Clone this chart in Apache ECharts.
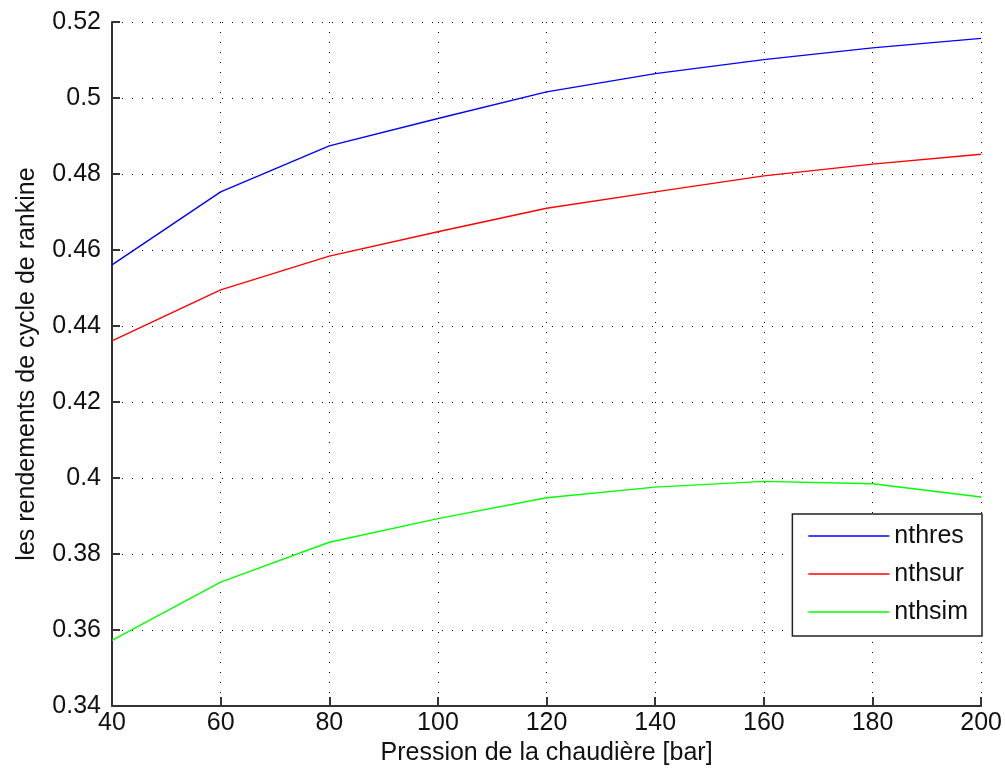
<!DOCTYPE html>
<html>
<head>
<meta charset="utf-8">
<script src="https://cdn.jsdelivr.net/npm/echarts@6/dist/echarts.min.js"></script>
<style>
  html, body { margin: 0; padding: 0; background: #fff; }
  #chart { width: 1005px; height: 778px; }
</style>
</head>
<body>
<div id="chart"></div>
<script>
// Boiler pressure (bar)
const pressure = [40, 60, 80, 100, 120, 140, 160, 180, 200];
// Rankine cycle efficiencies
const nthres = [0.4561, 0.4753, 0.4874, 0.4946, 0.5016, 0.5064, 0.5101, 0.5132, 0.5157];
const nthsur = [0.4361, 0.4495, 0.4584, 0.4648, 0.4710, 0.4753, 0.4795, 0.4826, 0.4852];
const nthsim = [0.3573, 0.3726, 0.3831, 0.3893, 0.3948, 0.3976, 0.3991, 0.3985, 0.3950];

const seriesNames = ['nthres', 'nthsur', 'nthsim'];
const seriesColors = ['#0000ff', '#ff0000', '#00ff00'];
const seriesValues = [nthres, nthsur, nthsim];

const FONT = '"Liberation Sans", Arial, sans-serif';
const dotted = { color: '#000', width: 1, type: [1, 9] };

const chart = echarts.init(document.getElementById('chart'), null, { renderer: 'canvas' });

chart.setOption({
  animation: false,
  backgroundColor: '#fff',
  textStyle: { fontFamily: FONT },
  grid: { left: 112, right: 23, top: 22, bottom: 72, containLabel: false },
  legend: {
    orient: 'vertical',
    right: 23,
    top: 514,
    backgroundColor: '#fff',
    borderColor: '#222',
    borderWidth: 1.5,
    borderRadius: 0,
    padding: [7, 14, 9, 16],
    icon: 'rect',
    itemWidth: 81,
    itemHeight: 1.5,
    itemGap: 8,
    textStyle: { fontFamily: FONT, fontSize: 25, color: '#111', lineHeight: 30 },
    data: seriesNames
  },
  xAxis: {
    type: 'value',
    min: 40, max: 200, interval: 20,
    name: 'Pression de la chaudière [bar]',
    nameLocation: 'middle',
    nameGap: 35,
    nameTextStyle: { fontFamily: FONT, fontSize: 25, color: '#111' },
    axisLine: { show: true, onZero: false, lineStyle: { color: '#333', width: 2 } },
    axisTick: { show: true, inside: true, length: 9, lineStyle: { color: '#333', width: 2 } },
    axisLabel: { fontFamily: FONT, fontSize: 25, color: '#111', margin: 5 },
    splitLine: { show: true, lineStyle: dotted }
  },
  yAxis: {
    type: 'value',
    min: 0.34, max: 0.52, interval: 0.02,
    name: 'les rendements de cycle de rankine',
    nameLocation: 'middle',
    nameGap: 72,
    nameTextStyle: { fontFamily: FONT, fontSize: 25, color: '#111' },
    axisLine: { show: true, onZero: false, lineStyle: { color: '#333', width: 2 } },
    axisTick: { show: true, inside: true, length: 8, lineStyle: { color: '#333', width: 2 } },
    axisLabel: {
      fontFamily: FONT, fontSize: 25, color: '#111', margin: 11,
      formatter: v => String(+v.toFixed(2))
    },
    splitLine: { show: true, lineStyle: dotted }
  },
  series: seriesNames.map((name, i) => ({
    name: name,
    type: 'line',
    data: pressure.map((p, j) => [p, seriesValues[i][j]]),
    symbol: 'none',
    showSymbol: false,
    smooth: false,
    color: seriesColors[i],
    lineStyle: { color: seriesColors[i], width: 1.4 },
    z: 3
  }))
});
</script>
</body>
</html>
